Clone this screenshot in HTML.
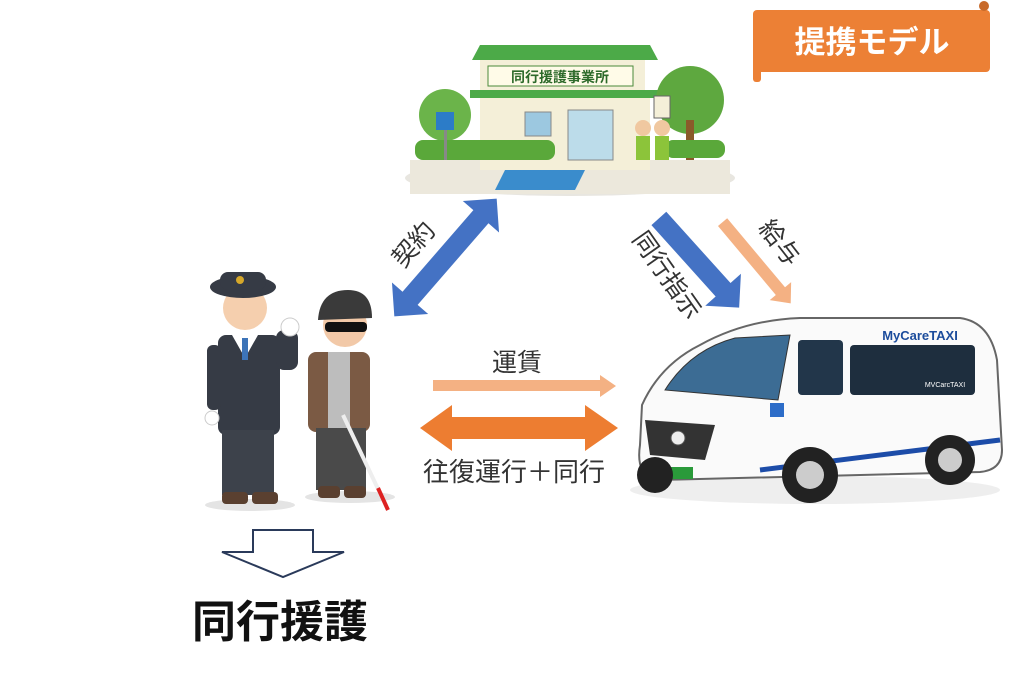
<!DOCTYPE html>
<html><head><meta charset="utf-8"><style>
html,body{margin:0;padding:0;background:#fff;width:1024px;height:678px;overflow:hidden}
svg{display:block}
text{font-family:"Liberation Sans","Noto Sans CJK JP",sans-serif}
</style></head><body>
<svg width="1024" height="678" viewBox="0 0 1024 678" xmlns="http://www.w3.org/2000/svg">
<!-- banner -->
<rect x="753" y="10" width="237" height="62" rx="4" fill="#ec8035"/>
<rect x="753" y="60" width="8" height="22" rx="3" fill="#ec8035"/>
<circle cx="984" cy="6" r="5" fill="#c86a2a"/>
<text x="872" y="53" font-size="31" font-weight="bold" fill="#fff" text-anchor="middle">提携モデル</text>

<!-- building -->
<ellipse cx="570" cy="178" rx="165" ry="18" fill="#e8e6e0"/>
<rect x="410" y="160" width="320" height="34" fill="#ece8dc"/>
<polygon points="505,170 585,170 575,190 495,190" fill="#3a8ccc"/>
<rect x="480" y="95" width="170" height="75" fill="#f4efd8"/>
<polygon points="472,60 658,60 650,45 480,45" fill="#4caa48"/>
<rect x="480" y="60" width="165" height="30" fill="#f4efd8"/>
<rect x="488" y="66" width="145" height="20" fill="#fffbe8" stroke="#4a8a3a"/>
<text x="560" y="82" font-size="14" font-weight="bold" fill="#2d6a2a" text-anchor="middle">同行援護事業所</text>
<rect x="470" y="90" width="190" height="8" fill="#4caa48"/>
<rect x="525" y="112" width="26" height="24" fill="#9cc8e0" stroke="#888"/>
<rect x="568" y="110" width="45" height="50" fill="#bcdcea" stroke="#888"/>
<circle cx="445" cy="115" r="26" fill="#6bb44a"/><circle cx="690" cy="100" r="34" fill="#5ea83f"/>
<rect x="686" y="120" width="8" height="40" fill="#8a5a2a"/>
<rect x="415" y="140" width="140" height="20" rx="8" fill="#5aa83a"/>
<rect x="665" y="140" width="60" height="18" rx="8" fill="#5aa83a"/>
<rect x="436" y="112" width="18" height="18" fill="#2c7cc8"/>
<rect x="444" y="130" width="3" height="30" fill="#888"/>
<circle cx="643" cy="128" r="8" fill="#f0c8a0"/><rect x="636" y="136" width="14" height="24" fill="#8cc43a"/>
<circle cx="662" cy="128" r="8" fill="#f0c8a0"/><rect x="655" y="136" width="14" height="24" fill="#8cc43a"/>
<rect x="654" y="96" width="16" height="22" fill="#f4efd8" stroke="#666"/>

<!-- contract double arrow -->
<g transform="translate(445.5,257.5) rotate(-49)">
<polygon points="-78,0 -54,-24 -54,-10 54,-10 54,-24 78,0 54,24 54,10 -54,10 -54,24" fill="#4472c4"/>
</g>
<text transform="translate(420,250) rotate(-49)" font-size="25" fill="#333" text-anchor="middle">契約</text>
<!-- 同行指示 -->
<g transform="translate(699,263) rotate(48)">
<polygon points="-60,-10 36,-10 36,-24 60,0 36,24 36,10 -60,10" fill="#4472c4"/>
</g>
<text transform="translate(660,280) rotate(55)" font-size="25" fill="#333" text-anchor="middle">同行指示</text>
<!-- 給与 -->
<g transform="translate(756,262) rotate(50)">
<polygon points="-52,-6 38,-6 38,-14 54,0 38,14 38,6 -52,6" fill="#f4b183"/>
</g>
<text transform="translate(773,248) rotate(52)" font-size="25" fill="#333" text-anchor="middle">給与</text>
<!-- 運賃 -->
<polygon points="433,380 600,380 600,375 616,386 600,397 600,391 433,391" fill="#f4b183"/>
<text x="517" y="371" font-size="25" fill="#333" text-anchor="middle">運賃</text>
<!-- 往復 -->
<polygon points="420,428 452,405 452,417 585,417 585,405 618,428 585,451 585,439 452,439 452,451" fill="#ed7d31"/>
<text x="514" y="481" font-size="26" fill="#333" text-anchor="middle">往復運行＋同行</text>

<!-- people -->
<ellipse cx="250" cy="505" rx="45" ry="6" fill="#e4e4e4"/>
<ellipse cx="350" cy="497" rx="45" ry="6" fill="#e4e4e4"/>
<rect x="218" y="335" width="62" height="100" rx="8" fill="#363b45"/>
<rect x="222" y="430" width="52" height="65" fill="#3d424b"/>
<rect x="207" y="345" width="14" height="65" rx="6" fill="#363b45"/>
<rect x="276" y="330" width="22" height="40" rx="8" fill="#363b45"/>
<circle cx="290" cy="327" r="9" fill="#fff" stroke="#ccc"/>
<circle cx="212" cy="418" r="7" fill="#fff" stroke="#ccc"/>
<polygon points="232,335 258,335 245,358" fill="#fff"/>
<rect x="242" y="338" width="6" height="22" fill="#3d74b8"/>
<circle cx="245" cy="308" r="22" fill="#f5cfae"/>
<ellipse cx="243" cy="287" rx="33" ry="11" fill="#363b45"/>
<rect x="220" y="272" width="46" height="18" rx="8" fill="#363b45"/>
<circle cx="240" cy="280" r="4" fill="#d6a82a"/>
<rect x="222" y="492" width="26" height="12" rx="4" fill="#5a4030"/><rect x="252" y="492" width="26" height="12" rx="4" fill="#5a4030"/>
<rect x="308" y="352" width="62" height="80" rx="8" fill="#7b5a44"/>
<rect x="328" y="352" width="22" height="80" fill="#bdbdbd"/>
<rect x="316" y="428" width="50" height="62" fill="#4a4a4a"/>
<circle cx="345" cy="325" r="22" fill="#f2c9a8"/>
<path d="M318 320 Q320 290 348 290 Q372 290 372 318 Z" fill="#3a3a3a"/>
<rect x="325" y="322" width="42" height="10" rx="4" fill="#111"/>
<line x1="343" y1="415" x2="388" y2="510" stroke="#eee" stroke-width="4"/>
<line x1="378" y1="488" x2="388" y2="510" stroke="#d22" stroke-width="4"/>
<rect x="318" y="486" width="22" height="12" rx="4" fill="#5a4030"/><rect x="344" y="486" width="22" height="12" rx="4" fill="#5a4030"/>

<!-- van -->
<ellipse cx="815" cy="490" rx="185" ry="14" fill="#eee"/>
<path d="M640 445 L642 405 Q660 365 700 345 Q745 320 800 318 L960 318 Q990 322 997 360 L1002 450 Q1002 470 980 472 L660 480 Q635 478 640 445 Z" fill="#fafafa" stroke="#666" stroke-width="2"/>
<path d="M665 390 Q690 350 735 338 L790 335 L778 400 Z" fill="#3c6c94" stroke="#333"/>
<rect x="798" y="340" width="45" height="55" rx="4" fill="#22364a"/>
<rect x="850" y="345" width="125" height="50" rx="4" fill="#1e2e3e"/>
<text x="920" y="340" font-size="13" font-weight="bold" fill="#1c4c9c" text-anchor="middle">MyCareTAXI</text>
<text x="945" y="387" font-size="7" fill="#fff" text-anchor="middle">MVCarcTAXI</text>
<rect x="770" y="403" width="14" height="14" fill="#2c6cc8"/>
<path d="M645 420 L715 425 L705 460 L650 455 Z" fill="#333"/>
<circle cx="678" cy="438" r="7" fill="#eee" stroke="#555"/>
<rect x="663" y="467" width="30" height="12" fill="#2a9a3a"/>
<path d="M760 470 L1000 440" stroke="#1c4ca8" stroke-width="5"/>
<circle cx="810" cy="475" r="28" fill="#222"/><circle cx="810" cy="475" r="14" fill="#ccc"/>
<circle cx="950" cy="460" r="25" fill="#222"/><circle cx="950" cy="460" r="12" fill="#ccc"/>
<circle cx="655" cy="475" r="18" fill="#222"/>

<!-- bottom -->
<polygon points="253,530 313,530 313,552 344,552 283,577 222,552 253,552" fill="#fff" stroke="#2a3a5a" stroke-width="2"/>
<text x="280" y="637" font-size="44" font-weight="bold" fill="#111" text-anchor="middle">同行援護</text>
</svg>
</body></html>
